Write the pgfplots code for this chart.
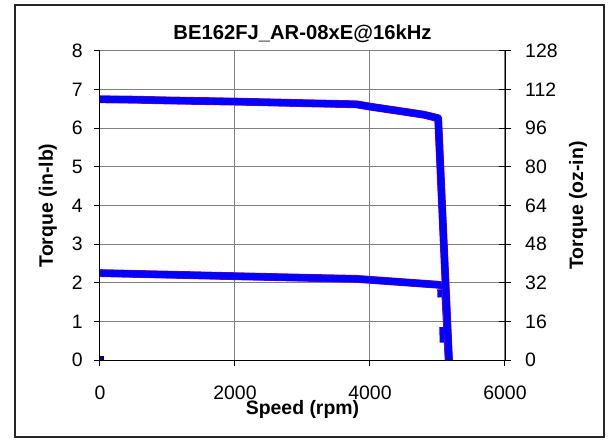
\documentclass[border=0pt]{standalone}
\usepackage{fontspec}
\setmainfont{Liberation Sans}
\usepackage{pgfplots}
\pgfplotsset{compat=1.18}
\definecolor{gridgray}{RGB}{128,128,128}
\definecolor{curveblue}{RGB}{0,0,255}
\definecolor{curvered}{RGB}{170,0,130}
\definecolor{navy}{RGB}{0,0,128}
\begin{document}
\begin{tikzpicture}
\useasboundingbox (-100bp,-81bp) rectangle (508bp,360bp);
\draw[line width=1.2bp, black!85] (-85bp,-77bp) rectangle (504bp,355bp);
\pgfplotsset{every axis/.append style={
    scale only axis, width=405bp, height=309bp,
    font=\fontsize{19.5}{23}\selectfont,
    /pgf/number format/assume math mode=true,
    /pgf/number format/1000 sep={},
    xmin=0, xmax=6000,
}}
\begin{axis}[
    ymin=0, ymax=8,
    xtick={0,2000,4000,6000}, ytick={0,1,...,8},
    axis x line*=bottom, axis y line*=left,
    tick align=outside, major tick length=6bp,
    grid=major, grid style={gridgray, line width=1bp},
    axis line style={black, line width=1bp},
    tick style={black, line width=1bp},
    title={\fontsize{20.3}{24}\selectfont\bfseries BE162FJ\_AR-08xE@16kHz},
    title style={at={(axis description cs:0.5,1)}, anchor=base, yshift=6bp, inner sep=0pt},
    xlabel={\bfseries Speed (rpm)},
    xlabel style={at={([yshift=-54bp]axis description cs:0.5,0)}, anchor=base, inner sep=0pt},
    ylabel={\bfseries Torque (in-lb)},
    ylabel style={at={([xshift=-47bp]axis description cs:0,0.5)}, anchor=base, inner sep=0pt},
    xticklabel style={anchor=base, inner sep=0pt, yshift=-33bp},
    yticklabel style={anchor=east, inner sep=0pt, xshift=-11bp},
]
% lower curve
\addplot[curvered, line width=7.8bp, line join=round] coordinates {
    (0,2.25) (1000,2.21) (2000,2.17) (3000,2.13) (3800,2.10) (4200,2.05)
    (4600,2.00) (5000,1.95) (5110,1.92) (5140,0.9) (5165,0)
};
\addplot[curveblue, line width=7bp, line join=round] coordinates {
    (0,2.25) (1000,2.21) (2000,2.17) (3000,2.13) (3800,2.10) (4200,2.05)
    (4600,2.00) (5000,1.95) (5110,1.92) (5140,0.9) (5165,0)
};
\addplot[curveblue, line width=6bp] coordinates {(5040,1.83) (5045,1.62)};
\addplot[curveblue, line width=6bp] coordinates {(5070,0.85) (5078,0.45)};
% upper curve
\addplot[curvered, line width=7.8bp, line join=round] coordinates {
    (0,6.75) (500,6.74) (1000,6.72) (2000,6.69) (3000,6.65) (3800,6.62)
    (4000,6.56) (4500,6.43) (4800,6.35) (5010,6.26) (5170,0)
};
\addplot[curveblue, line width=7bp, line join=round] coordinates {
    (0,6.75) (500,6.74) (1000,6.72) (2000,6.69) (3000,6.65) (3800,6.62)
    (4000,6.56) (4500,6.43) (4800,6.35) (5010,6.26) (5170,0)
};
\addplot[navy, only marks, mark=square*, mark size=1.5bp] coordinates {(20,0.05)};
\end{axis}
\begin{axis}[
    ymin=0, ymax=128, ytick={0,16,...,128},
    axis y line*=right, axis x line=none,
    tick align=center, major tick length=12bp,
    axis line style={black, line width=1bp},
    tick style={black, line width=1bp},
    ylabel={\bfseries Torque (oz-in)},
    ylabel style={at={([xshift=78bp]axis description cs:1,0.5)}, anchor=base, inner sep=0pt, rotate=0},
    yticklabel style={anchor=west, inner sep=0pt, xshift=14bp},
]
\end{axis}
\end{tikzpicture}
\end{document}
